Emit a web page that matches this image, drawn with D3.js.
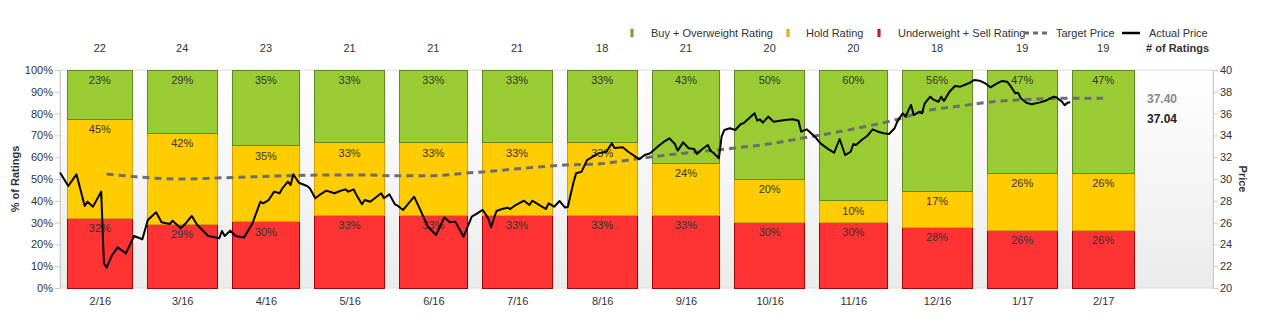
<!DOCTYPE html>
<html>
<head>
<meta charset="utf-8">
<script src="https://cdn.jsdelivr.net/npm/d3@7/dist/d3.min.js"></script>
<style>
  body { margin: 0; background: #fff; }
  svg { display: block; font-family: Arial, "Liberation Sans", sans-serif; }
</style>
</head>
<body>
<div id="chart"></div>
<script>
// monthly rating breakdown
const months = ["2016-02", "2016-03", "2016-04", "2016-05", "2016-06", "2016-07", "2016-08",
                "2016-09", "2016-10", "2016-11", "2016-12", "2017-01", "2017-02"];
const monthLabels = ["2/16", "3/16", "4/16", "5/16", "6/16", "7/16", "8/16",
                     "9/16", "10/16", "11/16", "12/16", "1/17", "2/17"];
const buyCounts  = [5, 7, 8, 7, 7, 7, 6, 9, 10, 12, 10, 9, 9];
const holdCounts = [10, 10, 8, 7, 7, 7, 6, 5, 4, 2, 3, 5, 5];
const sellCounts = [7, 7, 7, 7, 7, 7, 6, 7, 6, 6, 5, 5, 5];

const pctTicks = [0, 0.1, 0.2, 0.3, 0.4, 0.5, 0.6, 0.7, 0.8, 0.9, 1];
const priceTicks = [20, 22, 24, 26, 28, 30, 32, 34, 36, 38, 40];

// consensus target price
const targetSeries = [
  ["2016-02-18", 30.46], ["2016-03-16", 30.00], ["2016-03-29", 30.09], ["2016-04-12", 30.21],
  ["2016-04-24", 30.30], ["2016-05-11", 30.37], ["2016-05-21", 30.37], ["2016-06-03", 30.30],
  ["2016-06-15", 30.30], ["2016-06-27", 30.52], ["2016-07-09", 30.76], ["2016-07-21", 31.04],
  ["2016-08-03", 31.28], ["2016-08-16", 31.40], ["2016-08-28", 31.81], ["2016-09-09", 32.20],
  ["2016-09-21", 32.51], ["2016-10-03", 32.82], ["2016-10-16", 33.21], ["2016-10-28", 33.73],
  ["2016-11-09", 34.25], ["2016-11-19", 34.74], ["2016-11-26", 35.11], ["2016-12-01", 35.41],
  ["2016-12-13", 36.27], ["2016-12-25", 36.70], ["2017-01-06", 37.09], ["2017-01-18", 37.30],
  ["2017-01-31", 37.40], ["2017-02-15", 37.40]
];

// daily close
const priceSeries = [
  ["2016-02-01", 30.60], ["2016-02-04", 29.36], ["2016-02-07", 30.43], ["2016-02-10", 27.52],
  ["2016-02-11", 27.92], ["2016-02-13", 27.46], ["2016-02-16", 28.84], ["2016-02-17", 22.27],
  ["2016-02-18", 21.87], ["2016-02-20", 23.03], ["2016-02-22", 23.73], ["2016-02-25", 23.18],
  ["2016-02-28", 24.77], ["2016-03-02", 24.47], ["2016-03-04", 26.24], ["2016-03-07", 26.94],
  ["2016-03-09", 26.03], ["2016-03-12", 25.87], ["2016-03-13", 26.17], ["2016-03-16", 25.48],
  ["2016-03-18", 25.99], ["2016-03-20", 26.61], ["2016-03-22", 25.78], ["2016-03-26", 24.77],
  ["2016-03-30", 24.56], ["2016-03-31", 25.23], ["2016-04-01", 24.77], ["2016-04-03", 25.26],
  ["2016-04-05", 24.77], ["2016-04-08", 24.62], ["2016-04-11", 25.87], ["2016-04-14", 27.92],
  ["2016-04-15", 27.77], ["2016-04-17", 28.07], ["2016-04-19", 28.84], ["2016-04-21", 28.69],
  ["2016-04-22", 29.15], ["2016-04-24", 29.76], ["2016-04-25", 29.45], ["2016-04-26", 30.43],
  ["2016-04-28", 29.66], ["2016-05-01", 29.36], ["2016-05-02", 29.15], ["2016-05-04", 28.23],
  ["2016-05-06", 28.62], ["2016-05-08", 28.93], ["2016-05-11", 28.69], ["2016-05-13", 28.90],
  ["2016-05-15", 29.05], ["2016-05-16", 28.84], ["2016-05-18", 29.05], ["2016-05-19", 28.53],
  ["2016-05-21", 27.68], ["2016-05-22", 28.07], ["2016-05-24", 27.92], ["2016-05-28", 28.69],
  ["2016-05-29", 28.23], ["2016-05-31", 28.59], ["2016-06-02", 27.68], ["2016-06-03", 27.55],
  ["2016-06-05", 27.16], ["2016-06-09", 28.38], ["2016-06-11", 27.31], ["2016-06-14", 25.62],
  ["2016-06-17", 24.86], ["2016-06-20", 26.48], ["2016-06-22", 26.03], ["2016-06-24", 26.09],
  ["2016-06-27", 24.71], ["2016-06-30", 26.54], ["2016-07-02", 26.85], ["2016-07-04", 27.16],
  ["2016-07-06", 26.39], ["2016-07-07", 25.57], ["2016-07-09", 27.06], ["2016-07-11", 27.25],
  ["2016-07-13", 27.37], ["2016-07-14", 27.25], ["2016-07-16", 27.61], ["2016-07-19", 28.01],
  ["2016-07-21", 27.61], ["2016-07-22", 28.01], ["2016-07-26", 27.40], ["2016-07-27", 27.25],
  ["2016-07-28", 27.77], ["2016-07-30", 27.46], ["2016-08-01", 27.98], ["2016-08-03", 27.37],
  ["2016-08-04", 27.46], ["2016-08-06", 29.66], ["2016-08-07", 30.52], ["2016-08-09", 30.67],
  ["2016-08-11", 31.74], ["2016-08-15", 32.35], ["2016-08-18", 32.50], ["2016-08-20", 33.27],
  ["2016-08-21", 32.84], ["2016-08-24", 32.91], ["2016-08-26", 32.50], ["2016-08-29", 31.99],
  ["2016-08-30", 31.81], ["2016-09-01", 32.20], ["2016-09-03", 32.36], ["2016-09-06", 33.03],
  ["2016-09-08", 33.42], ["2016-09-10", 33.73], ["2016-09-12", 33.21], ["2016-09-13", 32.60],
  ["2016-09-15", 33.36], ["2016-09-17", 32.82], ["2016-09-19", 32.75], ["2016-09-20", 32.29],
  ["2016-09-22", 32.75], ["2016-09-24", 33.12], ["2016-09-25", 32.57], ["2016-09-26", 32.41],
  ["2016-09-28", 31.90], ["2016-09-29", 33.88], ["2016-09-30", 34.50], ["2016-10-02", 34.65],
  ["2016-10-04", 34.50], ["2016-10-06", 35.05], ["2016-10-07", 35.11], ["2016-10-11", 36.03],
  ["2016-10-12", 35.35], ["2016-10-13", 35.48], ["2016-10-14", 35.17], ["2016-10-16", 35.72],
  ["2016-10-18", 35.26], ["2016-10-22", 35.41], ["2016-10-25", 35.48], ["2016-10-27", 35.35],
  ["2016-10-28", 34.34], ["2016-10-30", 34.56], ["2016-10-31", 34.34], ["2016-11-02", 33.88],
  ["2016-11-04", 33.27], ["2016-11-07", 32.72], ["2016-11-09", 32.41], ["2016-11-11", 33.67],
  ["2016-11-13", 32.20], ["2016-11-15", 32.50], ["2016-11-16", 33.21], ["2016-11-17", 33.12],
  ["2016-11-19", 33.58], ["2016-11-21", 33.94], ["2016-11-23", 34.56], ["2016-11-25", 34.34],
  ["2016-11-27", 34.19], ["2016-11-29", 34.13], ["2016-12-01", 34.65], ["2016-12-02", 35.26],
  ["2016-12-04", 36.03], ["2016-12-05", 35.72], ["2016-12-07", 36.79], ["2016-12-08", 35.87],
  ["2016-12-10", 36.17], ["2016-12-11", 36.03], ["2016-12-12", 36.94], ["2016-12-14", 37.55],
  ["2016-12-15", 37.31], ["2016-12-17", 37.09], ["2016-12-18", 37.55], ["2016-12-19", 37.16],
  ["2016-12-21", 38.01], ["2016-12-23", 38.53], ["2016-12-25", 38.47], ["2016-12-28", 38.78],
  ["2016-12-30", 39.08], ["2017-01-01", 39.02], ["2017-01-03", 38.78], ["2017-01-05", 38.41],
  ["2017-01-07", 38.72], ["2017-01-09", 38.99], ["2017-01-11", 38.93], ["2017-01-12", 38.62],
  ["2017-01-14", 37.86], ["2017-01-15", 37.92], ["2017-01-16", 37.40], ["2017-01-18", 37.00],
  ["2017-01-20", 36.85], ["2017-01-23", 37.03], ["2017-01-25", 37.18], ["2017-01-28", 37.55],
  ["2017-01-29", 37.49], ["2017-01-31", 37.09], ["2017-02-01", 36.76], ["2017-02-02", 37.00],
  ["2017-02-03", 37.04]
];

const colors = {
  buy: "#99cc33", buyEdge: "#5f8a22",
  hold: "#ffcc00", holdEdge: "#d69e00",
  sell: "#ff3333", sellEdge: "#a30000",
  target: "#6e6e6e", price: "#000"
};

const width = 1261, height = 331;
const margin = { top: 70, right: 48, bottom: 43, left: 60 };
const plotW = width - margin.left - margin.right;
const plotH = height - margin.top - margin.bottom;

const parseMonth = d3.timeParse("%Y-%m");
const parseDay = d3.timeParse("%Y-%m-%d");

const svg = d3.select("#chart").append("svg")
  .attr("width", width)
  .attr("height", height);

const x = d3.scaleTime()
  .domain([parseDay("2016-02-01"), parseDay("2017-03-27")])
  .range([margin.left, margin.left + plotW]);
const yPct = d3.scaleLinear().domain([0, 1]).range([margin.top + plotH, margin.top]);
const yPrice = d3.scaleLinear().domain([20, 40]).range([margin.top + plotH, margin.top]);

// plot background
const grad = svg.append("defs").append("linearGradient")
  .attr("id", "plotBg").attr("x1", 0).attr("y1", 0).attr("x2", 0).attr("y2", 1);
grad.append("stop").attr("offset", "0%").attr("stop-color", "#ffffff");
grad.append("stop").attr("offset", "100%").attr("stop-color", "#ebebeb");

svg.append("rect")
  .attr("x", margin.left).attr("y", margin.top)
  .attr("width", plotW).attr("height", plotH)
  .attr("fill", "url(#plotBg)")
  .attr("stroke", "#dcdcdc");

// stacked bars
const table = months.map((m, i) => {
  const n = buyCounts[i] + holdCounts[i] + sellCounts[i];
  return {
    start: parseMonth(m),
    label: monthLabels[i],
    n: n,
    sell: sellCounts[i] / n,
    hold: holdCounts[i] / n,
    buy: buyCounts[i] / n
  };
});
const stack = d3.stack().keys(["sell", "hold", "buy"]);
const series = stack(table);
const barPad = 7.5;
const barX0 = d => x(d.start) + barPad;
const barX1 = d => x(d3.timeMonth.offset(d.start, 1)) - barPad;

const layers = svg.append("g").selectAll("g")
  .data(series)
  .join("g")
  .attr("fill", s => colors[s.key])
  .attr("stroke", s => colors[s.key + "Edge"]);

layers.selectAll("rect")
  .data(s => s)
  .join("rect")
  .attr("x", d => barX0(d.data))
  .attr("width", d => barX1(d.data) - barX0(d.data))
  .attr("y", d => yPct(d[1]))
  .attr("height", d => yPct(d[0]) - yPct(d[1]))
  .attr("shape-rendering", "crispEdges");

// percentage labels near the top of each segment
const labelG = svg.append("g")
  .attr("font-size", 11)
  .attr("fill", "#333")
  .attr("text-anchor", "middle");
series.forEach(s => {
  labelG.selectAll(null)
    .data(s)
    .join("text")
    .attr("x", d => (barX0(d.data) + barX1(d.data)) / 2)
    .attr("y", d => yPct(d[1]) + 10)
    .attr("dy", "0.35em")
    .text(d => Math.round(d.data[s.key] * 100) + "%");
});

// axes
const styleAxis = g => {
  g.selectAll(".domain").attr("stroke", "#cccccc");
  g.selectAll(".tick line").attr("stroke", "#cccccc");
  g.selectAll(".tick text").attr("fill", "#333").attr("font-size", 11)
    .attr("font-family", "Arial, 'Liberation Sans', sans-serif");
};

svg.append("g")
  .attr("transform", `translate(${margin.left},0)`)
  .call(d3.axisLeft(yPct).tickValues(pctTicks).tickFormat(d3.format(".0%")).tickSize(5).tickPadding(2))
  .call(styleAxis);

svg.append("g")
  .attr("transform", `translate(${margin.left + plotW},0)`)
  .call(d3.axisRight(yPrice).tickValues(priceTicks).tickSize(5).tickPadding(2))
  .call(styleAxis);

const midMonth = d => new Date((d.start.getTime() + d3.timeMonth.offset(d.start, 1).getTime()) / 2);
svg.append("g")
  .attr("transform", `translate(0,${margin.top + plotH})`)
  .call(d3.axisBottom(x).tickValues(table.map(midMonth)).tickSize(0).tickPadding(9)
    .tickFormat((d, i) => table[i].label))
  .call(styleAxis)
  .call(g => g.select(".domain").remove());

// axis titles
svg.append("text")
  .attr("transform", `translate(15,${margin.top + plotH / 2}) rotate(-90)`)
  .attr("text-anchor", "middle").attr("dy", "0.35em")
  .attr("font-size", 11).attr("font-weight", "bold").attr("fill", "#333")
  .text("% of Ratings");
svg.append("text")
  .attr("transform", `translate(1243,${margin.top + plotH / 2}) rotate(90)`)
  .attr("text-anchor", "middle").attr("dy", "0.35em")
  .attr("font-size", 11).attr("font-weight", "bold").attr("fill", "#333")
  .text("Price");

// target price and actual price lines
const target = targetSeries.map(([d, v]) => ({ date: parseDay(d), value: v }));
const price = priceSeries.map(([d, v]) => ({ date: parseDay(d), value: v }));

svg.append("path")
  .datum(target)
  .attr("fill", "none")
  .attr("stroke", colors.target)
  .attr("stroke-width", 3)
  .attr("stroke-dasharray", "7,5")
  .attr("d", d3.line().x(d => x(d.date)).y(d => yPrice(d.value)).curve(d3.curveMonotoneX));

svg.append("path")
  .datum(price)
  .attr("fill", "none")
  .attr("stroke", colors.price)
  .attr("stroke-width", 2)
  .attr("stroke-linejoin", "round")
  .attr("d", d3.line().x(d => x(d.date)).y(d => yPrice(d.value)));

// last values beside the plot
const lastTarget = target[target.length - 1].value;
const lastPrice = price[price.length - 1].value;
const targetLabelY = yPrice(lastTarget);
const priceLabelY = Math.max(yPrice(lastPrice), targetLabelY + 20);
svg.append("text")
  .attr("x", 1147).attr("y", targetLabelY).attr("dy", "0.35em")
  .attr("font-size", 12).attr("font-weight", "bold").attr("fill", "#888")
  .text(lastTarget.toFixed(2));
svg.append("text")
  .attr("x", 1147).attr("y", priceLabelY).attr("dy", "0.35em")
  .attr("font-size", 12).attr("font-weight", "bold").attr("fill", "#222")
  .text(lastPrice.toFixed(2));

// number of ratings row
const countRow = svg.append("g")
  .attr("font-size", 11).attr("fill", "#333").attr("text-anchor", "middle");
countRow.selectAll("text")
  .data(table)
  .join("text")
  .attr("x", d => (barX0(d) + barX1(d)) / 2)
  .attr("y", 48).attr("dy", "0.35em")
  .text(d => d.n);
svg.append("text")
  .attr("x", 1209).attr("y", 48).attr("dy", "0.35em")
  .attr("text-anchor", "end")
  .attr("font-size", 11).attr("font-weight", "bold").attr("fill", "#333")
  .text("# of Ratings");

// legend
const legend = svg.append("g").attr("font-size", 11).attr("fill", "#333");
const legendY = 33;
const swatches = [
  { x: 631, tx: 651, fill: colors.buy, edge: colors.buyEdge, text: "Buy + Overweight Rating" },
  { x: 787, tx: 806, fill: colors.hold, edge: colors.holdEdge, text: "Hold Rating" },
  { x: 878, tx: 898, fill: colors.sell, edge: colors.sellEdge, text: "Underweight + Sell Rating" }
];
swatches.forEach(s => {
  legend.append("rect")
    .attr("x", s.x).attr("y", legendY - 3.5).attr("width", 2).attr("height", 7)
    .attr("fill", s.fill).attr("stroke", s.edge).attr("stroke-width", 1);
  legend.append("text").attr("x", s.tx).attr("y", legendY).attr("dy", "0.35em").text(s.text);
});
legend.append("line")
  .attr("x1", 1024).attr("x2", 1047).attr("y1", legendY).attr("y2", legendY)
  .attr("stroke", colors.target).attr("stroke-width", 3).attr("stroke-dasharray", "5,4");
legend.append("text").attr("x", 1056).attr("y", legendY).attr("dy", "0.35em").text("Target Price");
legend.append("line")
  .attr("x1", 1122).attr("x2", 1140).attr("y1", legendY).attr("y2", legendY)
  .attr("stroke", colors.price).attr("stroke-width", 2.5);
legend.append("text").attr("x", 1149).attr("y", legendY).attr("dy", "0.35em").text("Actual Price");
</script>
</body>
</html>
